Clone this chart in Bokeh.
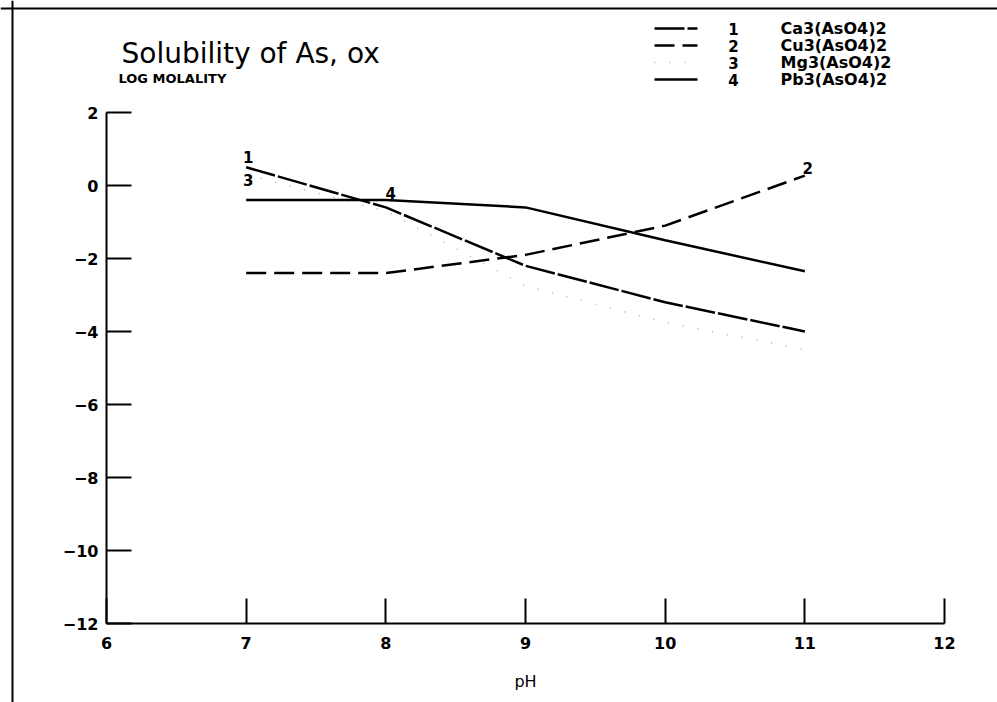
from bokeh.plotting import figure
from bokeh.models import Range1d, LinearAxis, FixedTicker, Span, Label
from bokeh.embed import file_html
from bokeh.resources import INLINE
from bokeh.core.properties import value

# ---------------- data ----------------
ph = [7, 8, 9, 10, 11]
ca3 = [0.5, -0.6, -2.2, -3.2, -4.0]      # 1 Ca3(AsO4)2
cu3 = [-2.4, -2.4, -1.9, -1.1, 0.27]     # 2 Cu3(AsO4)2
mg3 = [0.3, -0.7, -2.75, -3.75, -4.5]    # 3 Mg3(AsO4)2
pb3 = [-0.4, -0.4, -0.6, -1.5, -2.35]    # 4 Pb3(AsO4)2
numbers = ["1", "2", "3", "4"]
names = ["Ca3(AsO4)2", "Cu3(AsO4)2", "Mg3(AsO4)2", "Pb3(AsO4)2"]
x_ticks = [6, 7, 8, 9, 10, 11, 12]
y_ticks = [-12, -10, -8, -6, -4, -2, 0, 2]
title_text = "Solubility of As, ox"
y_title = "LOG MOLALITY"
x_title = "pH"

# ---------------- layout ----------------
W, H = 997, 702
X0PX, X1PX = 106, 944      # pixel columns of pH 6 and 12
YTPX, YBPX = 112, 623      # pixel rows of log m 2 and -12
xs = (X1PX - X0PX) / (x_ticks[-1] - x_ticks[0])
ys = (YBPX - YTPX) / (y_ticks[-1] - y_ticks[0])
x_start = x_ticks[0] - X0PX / xs
x_end = x_ticks[-1] + (W - X1PX) / xs
y_end = y_ticks[-1] + YTPX / ys
y_start = y_ticks[0] - (H - YBPX) / ys


def px2x(px):
    return x_start + px / xs


def py2y(py):
    return y_end - py / ys


FONT = "DejaVu Sans"

p = figure(width=W, height=H, x_range=Range1d(x_start, x_end),
           y_range=Range1d(y_start, y_end), output_backend="svg",
           toolbar_location=None, x_axis_location=None, y_axis_location=None,
           min_border=0, min_border_left=0, min_border_right=0,
           min_border_top=0, min_border_bottom=0)
p.outline_line_color = None
p.background_fill_color = "white"
p.border_fill_color = "white"
p.grid.visible = False

# axes
yaxis = LinearAxis(fixed_location=x_ticks[0], bounds=(y_ticks[0], y_ticks[-1]),
                   ticker=FixedTicker(ticks=y_ticks))
xaxis = LinearAxis(fixed_location=y_ticks[0], bounds=(x_ticks[0], x_ticks[-1]),
                   ticker=FixedTicker(ticks=x_ticks), axis_label=x_title)
for ax in (xaxis, yaxis):
    ax.axis_line_width = 2
    ax.axis_line_color = "black"
    ax.major_tick_line_width = 2
    ax.major_tick_line_color = "black"
    ax.major_tick_in = 25
    ax.major_tick_out = 0
    ax.minor_tick_in = 0
    ax.minor_tick_out = 0
    ax.major_label_text_font = FONT
    ax.major_label_text_font_style = "bold"
    ax.major_label_text_font_size = "16px"
    ax.major_label_text_color = "black"
yaxis.major_label_standoff = 8
xaxis.major_label_standoff = 13
xaxis.axis_label_text_font = FONT
xaxis.axis_label_text_font_style = "normal"
xaxis.axis_label_text_font_size = "16px"
xaxis.axis_label_text_color = "black"
xaxis.axis_label_standoff = 20
p.add_layout(yaxis, "left")
p.add_layout(xaxis, "below")

# page border (top and left edges of the scanned page)
p.add_layout(Span(location=py2y(8), dimension="width", line_color="black",
                  line_width=2, line_alpha=1))
p.add_layout(Span(location=px2x(12), dimension="height", line_color="black",
                  line_width=2, line_alpha=1))

# series
series = [
    (ca3, "black", "30 3", 2.5),
    (cu3, "black", "20 8", 2.5),
    (mg3, "#b0b0b0", "1 14", 1.5),
    (pb3, "black", "solid", 2.5),
]
for ys_, col, dash, lw in series:
    p.line(ph, ys_, line_color=col, line_dash=dash, line_width=lw)

# curve labels
lab_kw = dict(text_font=value(FONT), text_font_style="bold", text_font_size="15px",
              text_align="center", text_baseline="middle", text_color="black")
p.text(x=[ph[0]], y=[ca3[0]], text=[numbers[0]], x_offset=2, y_offset=-10, **lab_kw)
p.text(x=[ph[0]], y=[mg3[0]], text=[numbers[2]], x_offset=2, y_offset=5, **lab_kw)
p.text(x=[ph[1]], y=[pb3[1]], text=[numbers[3]], x_offset=5, y_offset=-7, **lab_kw)
p.text(x=[ph[-1]], y=[cu3[-1]], text=[numbers[1]], x_offset=3, y_offset=-8, **lab_kw)

# titles
p.add_layout(Label(x=px2x(121), y=py2y(53), text=title_text, text_font=FONT,
                   text_font_size="28px", text_baseline="alphabetic", text_color="black"))
p.add_layout(Label(x=px2x(118), y=py2y(78), text=y_title, text_font=FONT,
                   text_font_style="bold", text_font_size="13px",
                   text_baseline="alphabetic", text_color="black"))

# legend (manual, to sit above the axes like the original)
row_px = [28, 45, 62, 79]
for i, (ys_, col, dash, lw) in enumerate(series):
    yy = py2y(row_px[i])
    p.segment(x0=[px2x(654)], y0=[yy], x1=[px2x(697)], y1=[yy],
              line_color=col, line_dash=dash, line_width=lw)
leg_y = [py2y(r) for r in row_px]
p.text(x=[px2x(733)] * 4, y=leg_y, text=numbers, **lab_kw)
p.text(x=[px2x(780)] * 4, y=leg_y, text=names,
       text_font=value(FONT), text_font_style="bold", text_font_size="16px",
       text_align="left", text_baseline="middle", text_color="black")

open("out.html", "w").write(file_html(p, INLINE))
